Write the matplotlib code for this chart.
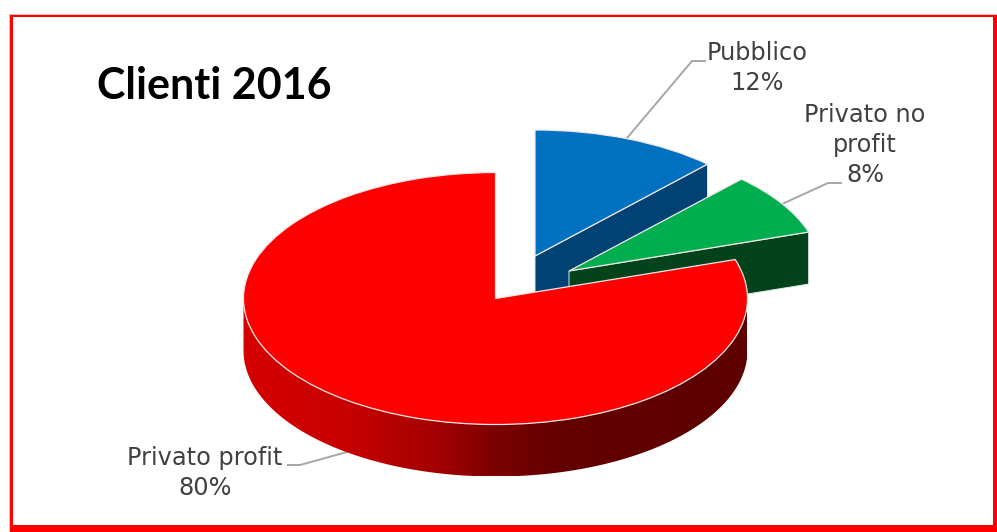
import matplotlib
matplotlib.use("Agg")
import matplotlib.pyplot as plt
import numpy as np
from matplotlib.colors import LinearSegmentedColormap
from matplotlib.patches import Polygon, Rectangle

labels = ["Pubblico", "Privato no\nprofit", "Privato profit"]
shares = [12, 8, 80]
top_colors = ["#0070c0", "#00ae4f", "#ff0000"]
wall_colors = ["#004274", "#03431c"]

W, H = 997, 532
RX, RY = 252, 126  # ellipse of the pie, pixels
CX, CY = 495, 298
DEPTH = 52


# picture pixels -> axes units (one unit = one pie radius)
def ux(px):
    return (px - CX) / RX


def uy(py):
    return (CY - py) / RY


fig = plt.figure(figsize=(W / 100, H / 100), dpi=100)
ax = fig.add_axes([0, 0, 1, 1])

# slice centres after the explode, in pixels
centres = [(535, 256), (569, 271), (495.5, 298.5)]
wedges, _ = ax.pie(shares, colors=top_colors, startangle=90, counterclock=False,
                   wedgeprops=dict(edgecolor="#f2e6e6", linewidth=0.9))
for w, c, z in zip(wedges, centres, [2, 4, 6]):
    w.set_center((ux(c[0]), uy(c[1])))
    w.set_zorder(z)
ax.set_aspect("auto")
ax.set_xlim(ux(0), ux(W))
ax.set_ylim(uy(H), uy(0))
ax.axis("off")

# cut faces of the two pulled out slices
ends = np.cumsum(shares) / 100 * 2 * np.pi
dy = DEPTH / RY
for i in range(2):
    x0, y0 = ux(centres[i][0]), uy(centres[i][1])
    x1, y1 = x0 + np.sin(ends[i]), y0 + np.cos(ends[i])
    ax.add_patch(Polygon([(x0, y0), (x1, y1), (x1, y1 - dy), (x0, y0 - dy)],
                         facecolor=wall_colors[i], edgecolor="#dfe8e8",
                         linewidth=0.7, zorder=1 + 2 * i))

# front wall of the big slice, with the dark gradient
t = np.radians(np.linspace(90, 270, 200))
xs = np.sin(t) + ux(centres[2][0])
ys = np.cos(t) + uy(centres[2][1])
wall = Polygon(np.r_[np.c_[xs, ys], np.c_[xs[::-1], ys[::-1] - dy]], closed=True,
               facecolor="none", edgecolor="none", zorder=5)
ax.add_patch(wall)
cmap = LinearSegmentedColormap.from_list("wall", [
    (0.0, "#d60000"), (0.2, "#c80000"), (0.38, "#a40000"), (0.5, "#7c0000"),
    (0.62, "#640000"), (1.0, "#5e0000")])
grad = ax.imshow(np.linspace(0, 1, 256)[None, :], extent=[-1, 1, -1 - dy, 0.2],
                 aspect="auto", cmap=cmap, zorder=5)
grad.set_clip_path(wall)
ax.set_xlim(ux(0), ux(W))
ax.set_ylim(uy(H), uy(0))

# leader lines
leaders = [([627, 692, 705], [138, 61, 61]),
           ([780, 828, 841], [205, 183, 183]),
           ([347, 300, 288], [452, 465, 465])]
for lx, ly in leaders:
    ax.plot(ux(np.array(lx)), uy(np.array(ly)), color="#a6a6a6", lw=1.4, zorder=1)

# labels
label_pos = [(757, 68), (865, 145), (205, 473)]
for name, val, pos in zip(labels, shares, label_pos):
    ax.text(ux(pos[0]), uy(pos[1]), f"{name}\n{val}%", ha="center", va="center",
            fontsize=17.3, color="#404040", family="DejaVu Sans", linespacing=1.3, zorder=8)

ax.text(ux(97), uy(86), "Clienti 2016", ha="left", va="center", fontsize=31,
        fontweight="bold", family="Lato", color="black", zorder=8)

# red frame
for x0, y0, x1, y1, col in [(8.5, 13.5, 10.5, H, "#e9bcbc"), (8.5, 13.5, W, 15, "#e9bcbc"),
                            (10, 14.5, 13, H, "#ff0000"), (10, 14.5, W, 17, "#ff0000"),
                            (993, 15, W, H, "#ff0000"), (10, 525, W, H, "#ff0000")]:
    ax.add_patch(Rectangle((ux(x0), uy(y1)), (x1 - x0) / RX, (y1 - y0) / RY,
                           facecolor=col, edgecolor="none", zorder=9))

fig.savefig("out.png", dpi=100)
